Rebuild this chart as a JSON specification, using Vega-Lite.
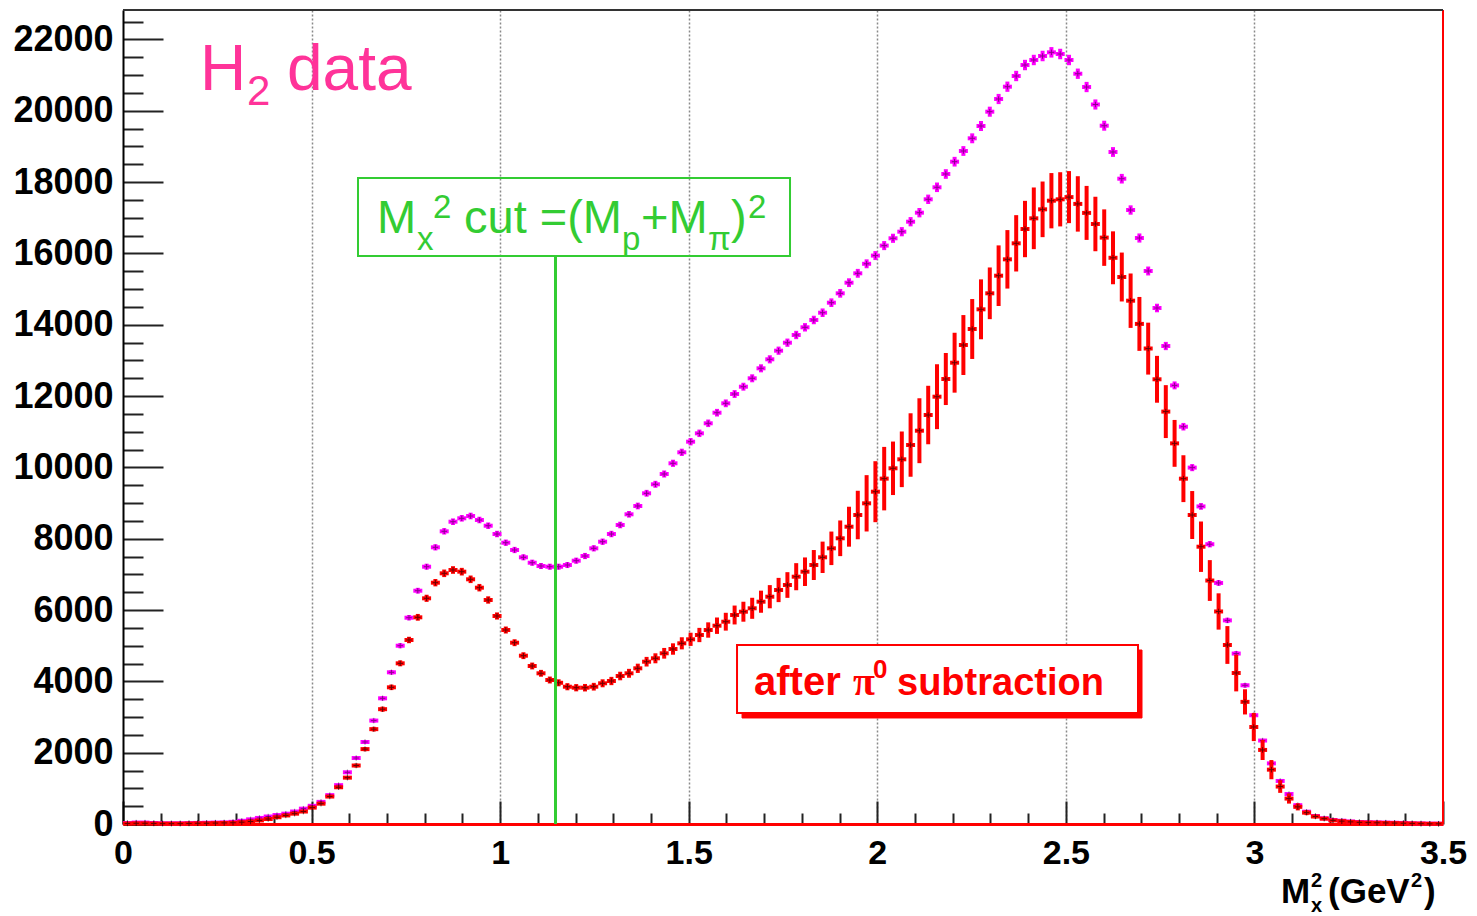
{
  "$schema": "https://vega.github.io/schema/vega-lite/v6.json",
  "width": 1320,
  "height": 814,
  "autosize": {"type": "none"},
  "padding": {"left": 123, "top": 10, "right": 34, "bottom": 92},
  "background": "white",
  "config": {"view": {"stroke": null}, "font": "Liberation Sans"},
  "resolve": {"axis": {"x": "independent", "y": "independent"}},
  "data": {"values": [
    {"x":0.0117,"h":30,"he":6,"s":15,"se":5},{"x":0.0350,"h":40,"he":6,"s":20,"se":5},{"x":0.0583,"h":40,"he":6,"s":20,"se":5},{"x":0.0817,"h":30,"he":6,"s":15,"se":5},{"x":0.1050,"h":20,"he":5,"s":10,"se":5},
    {"x":0.1283,"h":20,"he":5,"s":10,"se":5},{"x":0.1517,"h":20,"he":5,"s":10,"se":5},{"x":0.1750,"h":25,"he":5,"s":15,"se":5},{"x":0.1983,"h":30,"he":6,"s":20,"se":5},{"x":0.2217,"h":35,"he":6,"s":20,"se":5},
    {"x":0.2450,"h":40,"he":6,"s":25,"se":6},{"x":0.2683,"h":45,"he":7,"s":30,"se":6},{"x":0.2917,"h":60,"he":8,"s":35,"se":7},{"x":0.3150,"h":90,"he":10,"s":50,"se":8},{"x":0.3383,"h":130,"he":11,"s":70,"se":10},
    {"x":0.3617,"h":170,"he":13,"s":100,"se":12},{"x":0.3850,"h":210,"he":15,"s":140,"se":14},{"x":0.4083,"h":250,"he":16,"s":190,"se":16},{"x":0.4317,"h":290,"he":17,"s":240,"se":18},{"x":0.4550,"h":350,"he":19,"s":290,"se":20},
    {"x":0.4783,"h":430,"he":21,"s":350,"se":22},{"x":0.5017,"h":510,"he":23,"s":460,"se":25},{"x":0.5250,"h":620,"he":25,"s":570,"se":28},{"x":0.5483,"h":810,"he":28,"s":770,"se":32},{"x":0.5717,"h":1090,"he":33,"s":1030,"se":38},
    {"x":0.5950,"h":1450,"he":38,"s":1300,"se":45},{"x":0.6183,"h":1850,"he":43,"s":1640,"se":52},{"x":0.6417,"h":2300,"he":48,"s":2100,"se":58},{"x":0.6650,"h":2900,"he":54,"s":2660,"se":65},{"x":0.6883,"h":3525,"he":59,"s":3220,"se":72},
    {"x":0.7117,"h":4254,"he":65,"s":3833,"se":78},{"x":0.7350,"h":5000,"he":71,"s":4506,"se":84},{"x":0.7583,"h":5785,"he":76,"s":5160,"se":90},{"x":0.7817,"h":6542,"he":81,"s":5796,"se":95},{"x":0.8050,"h":7215,"he":85,"s":6329,"se":100},
    {"x":0.8283,"h":7759,"he":88,"s":6767,"se":103},{"x":0.8517,"h":8208,"he":91,"s":7030,"se":106},{"x":0.8750,"h":8477,"he":92,"s":7123,"se":107},{"x":0.8983,"h":8573,"he":93,"s":7076,"se":107},{"x":0.9217,"h":8637,"he":93,"s":6862,"se":106},
    {"x":0.9450,"h":8525,"he":92,"s":6627,"se":105},{"x":0.9683,"h":8365,"he":91,"s":6282,"se":103},{"x":0.9917,"h":8132,"he":90,"s":5833,"se":100},{"x":1.0150,"h":7888,"he":89,"s":5440,"se":98},{"x":1.0383,"h":7684,"he":88,"s":5084,"se":97},
    {"x":1.0617,"h":7479,"he":86,"s":4720,"se":96},{"x":1.0850,"h":7327,"he":86,"s":4431,"se":96},{"x":1.1083,"h":7235,"he":85,"s":4226,"se":96},{"x":1.1317,"h":7215,"he":85,"s":4038,"se":97},{"x":1.1550,"h":7215,"he":85,"s":3960,"se":98},
    {"x":1.1783,"h":7263,"he":85,"s":3850,"se":100},{"x":1.2017,"h":7384,"he":86,"s":3822,"se":102},{"x":1.2250,"h":7515,"he":87,"s":3822,"se":105},{"x":1.2483,"h":7731,"he":88,"s":3850,"se":108},{"x":1.2717,"h":7916,"he":89,"s":3946,"se":112},
    {"x":1.2950,"h":8132,"he":90,"s":4010,"se":116},{"x":1.3183,"h":8385,"he":92,"s":4150,"se":120},{"x":1.3417,"h":8685,"he":93,"s":4226,"se":125},{"x":1.3650,"h":8918,"he":94,"s":4366,"se":130},{"x":1.3883,"h":9274,"he":96,"s":4551,"se":135},
    {"x":1.4117,"h":9526,"he":98,"s":4647,"se":140},{"x":1.4350,"h":9815,"he":99,"s":4787,"se":150},{"x":1.4583,"h":10115,"he":101,"s":4907,"se":160},{"x":1.4817,"h":10423,"he":102,"s":5067,"se":170},{"x":1.5050,"h":10721,"he":104,"s":5179,"se":185},
    {"x":1.5283,"h":10956,"he":105,"s":5300,"se":200},{"x":1.5517,"h":11237,"he":106,"s":5440,"se":215},{"x":1.5750,"h":11534,"he":107,"s":5561,"se":230},{"x":1.5983,"h":11797,"he":109,"s":5673,"se":250},{"x":1.6217,"h":12058,"he":110,"s":5861,"se":265},
    {"x":1.6450,"h":12263,"he":111,"s":5953,"se":280},{"x":1.6683,"h":12499,"he":112,"s":6049,"se":295},{"x":1.6917,"h":12779,"he":113,"s":6234,"se":310},{"x":1.7150,"h":13031,"he":114,"s":6374,"se":325},{"x":1.7383,"h":13273,"he":115,"s":6562,"se":340},
    {"x":1.7617,"h":13497,"he":116,"s":6702,"se":360},{"x":1.7850,"h":13713,"he":117,"s":6935,"se":380},{"x":1.8083,"h":13929,"he":118,"s":7075,"se":400},{"x":1.8317,"h":14134,"he":119,"s":7263,"se":420},{"x":1.8550,"h":14338,"he":120,"s":7479,"se":440},
    {"x":1.8783,"h":14619,"he":121,"s":7731,"se":470},{"x":1.9017,"h":14882,"he":122,"s":8012,"se":500},{"x":1.9250,"h":15180,"he":123,"s":8337,"se":560},{"x":1.9483,"h":15443,"he":124,"s":8665,"se":680},{"x":1.9717,"h":15710,"he":125,"s":8993,"se":790},
    {"x":1.9950,"h":15940,"he":126,"s":9319,"se":855},{"x":2.0183,"h":16220,"he":127,"s":9685,"se":890},{"x":2.0417,"h":16425,"he":128,"s":9975,"se":750},{"x":2.0650,"h":16610,"he":129,"s":10227,"se":780},{"x":2.0883,"h":16890,"he":130,"s":10628,"se":890},
    {"x":2.1117,"h":17143,"he":131,"s":11029,"se":910},{"x":2.1350,"h":17518,"he":132,"s":11469,"se":820},{"x":2.1583,"h":17855,"he":134,"s":11983,"se":910},{"x":2.1817,"h":18228,"he":135,"s":12479,"se":730},{"x":2.2050,"h":18573,"he":136,"s":12936,"se":840},
    {"x":2.2283,"h":18873,"he":137,"s":13432,"se":840},{"x":2.2517,"h":19229,"he":139,"s":13881,"se":840},{"x":2.2750,"h":19574,"he":140,"s":14433,"se":840},{"x":2.2983,"h":19975,"he":141,"s":14882,"se":725},{"x":2.3217,"h":20331,"he":143,"s":15376,"se":850},
    {"x":2.3450,"h":20676,"he":144,"s":15835,"se":820},{"x":2.3683,"h":20976,"he":145,"s":16284,"se":790},{"x":2.3917,"h":21284,"he":146,"s":16685,"se":790},{"x":2.4150,"h":21425,"he":146,"s":16985,"se":865},{"x":2.4383,"h":21537,"he":147,"s":17237,"se":780},
    {"x":2.4617,"h":21640,"he":147,"s":17479,"se":775},{"x":2.4850,"h":21593,"he":147,"s":17518,"se":760},{"x":2.5083,"h":21425,"he":146,"s":17580,"se":730},{"x":2.5317,"h":21040,"he":145,"s":17389,"se":777},{"x":2.5550,"h":20667,"he":144,"s":17137,"se":757},
    {"x":2.5783,"h":20177,"he":142,"s":16826,"se":764},{"x":2.6017,"h":19582,"he":140,"s":16444,"se":792},{"x":2.6250,"h":18845,"he":137,"s":15878,"se":742},{"x":2.6483,"h":18096,"he":135,"s":15339,"se":686},{"x":2.6717,"h":17218,"he":131,"s":14675,"se":763},
    {"x":2.6950,"h":16433,"he":128,"s":14024,"se":756},{"x":2.7183,"h":15508,"he":125,"s":13331,"se":728},{"x":2.7417,"h":14470,"he":120,"s":12471,"se":657},{"x":2.7650,"h":13404,"he":116,"s":11565,"se":742},{"x":2.7883,"h":12300,"he":111,"s":10674,"se":657},
    {"x":2.8117,"h":11141,"he":106,"s":9684,"se":657},{"x":2.8350,"h":9994,"he":100,"s":8665,"se":672},{"x":2.8583,"h":8906,"he":94,"s":7776,"se":707},{"x":2.8817,"h":7846,"he":89,"s":6828,"se":572},{"x":2.9050,"h":6760,"he":82,"s":5960,"se":509},
    {"x":2.9283,"h":5710,"he":76,"s":5020,"se":530},{"x":2.9517,"h":4780,"he":69,"s":4235,"se":516},{"x":2.9750,"h":3890,"he":62,"s":3425,"se":353},{"x":2.9983,"h":3050,"he":55,"s":2720,"se":395},{"x":3.0217,"h":2340,"he":48,"s":2077,"se":283},
    {"x":3.0450,"h":1700,"he":41,"s":1524,"se":269},{"x":3.0683,"h":1207,"he":35,"s":1050,"se":177},{"x":3.0917,"h":840,"he":29,"s":713,"se":141},{"x":3.1150,"h":528,"he":23,"s":481,"se":100},{"x":3.1383,"h":345,"he":19,"s":318,"se":70},
    {"x":3.1617,"h":224,"he":15,"s":210,"se":50},{"x":3.1850,"h":160,"he":13,"s":150,"se":35},{"x":3.2083,"h":112,"he":11,"s":100,"se":25},{"x":3.2317,"h":93,"he":10,"s":80,"se":20},{"x":3.2550,"h":70,"he":8,"s":60,"se":15},
    {"x":3.2783,"h":55,"he":7,"s":45,"se":12},{"x":3.3017,"h":50,"he":7,"s":40,"se":10},{"x":3.3250,"h":45,"he":7,"s":35,"se":10},{"x":3.3483,"h":40,"he":6,"s":30,"se":8},{"x":3.3717,"h":35,"he":6,"s":25,"se":8},
    {"x":3.3950,"h":30,"he":6,"s":20,"se":6},{"x":3.4183,"h":20,"he":5,"s":15,"se":5},{"x":3.4417,"h":15,"he":4,"s":10,"se":4},{"x":3.4650,"h":10,"he":3,"s":5,"se":3},{"x":3.4883,"h":10,"he":3,"s":5,"se":3}
  ]},
  "layer": [
    {
      "mark": {"type": "tick", "orient": "horizontal", "color": "#ff00ff", "size": 9, "thickness": 4, "opacity": 1},
      "encoding": {
        "x": {"field": "x", "type": "quantitative", "title": null, "scale": {"domain": [0, 3.5], "nice": false, "zero": false},
          "axis": {
            "orient": "bottom",
            "values": [0,0.1,0.2,0.3,0.4,0.5,0.6,0.7,0.8,0.9,1,1.1,1.2,1.3,1.4,1.5,1.6,1.7,1.8,1.9,2,2.1,2.2,2.3,2.4,2.5,2.6,2.7,2.8,2.9,3,3.1,3.2,3.3,3.4,3.5],
            "title": null,
            "labelExpr": "round(datum.value*10) % 5 == 0 ? format(datum.value, '~g') : ''",
            "labelFont": "Liberation Sans", "labelFontSize": 34, "labelFontWeight": "bold", "labelColor": "#000000",
            "labelPadding": 35, "labelFlush": false, "labelOverlap": false, "labelBound": false,
            "tickSize": {"condition": {"test": "round(datum.value*10) % 5 == 0", "value": -23}, "value": -11},
            "tickColor": "#222222", "tickWidth": 2,
            "grid": true, "gridColor": "#8a8a8a", "gridDash": [2, 2], "gridWidth": 1.5,
            "gridOpacity": {"condition": {"test": "round(datum.value*10) % 5 == 0 && datum.value > 0 && datum.value < 3.5", "value": 1}, "value": 0},
            "domainColor": "#ff0000", "domainWidth": 3
          }
        },
        "y": {"field": "h", "type": "quantitative", "title": null, "scale": {"domain": [0, 22827], "nice": false, "zero": false},
          "axis": {
            "orient": "left",
            "values": [0,500,1000,1500,2000,2500,3000,3500,4000,4500,5000,5500,6000,6500,7000,7500,8000,8500,9000,9500,10000,10500,11000,11500,12000,12500,13000,13500,14000,14500,15000,15500,16000,16500,17000,17500,18000,18500,19000,19500,20000,20500,21000,21500,22000,22500],
            "title": null,
            "labelExpr": "datum.value % 2000 == 0 ? format(datum.value, 'd') : ''",
            "labelFont": "Liberation Sans", "labelFontSize": 36, "labelFontWeight": "bold", "labelColor": "#000000",
            "labelPadding": 50, "labelFlush": false, "labelOverlap": false, "labelBound": false,
            "tickSize": {"condition": {"test": "datum.value % 2000 == 0", "value": -40}, "value": -20},
            "tickColor": "#222222", "tickWidth": 2,
            "grid": false,
            "domainColor": "#000000", "domainWidth": 2
          }
        }
      }
    },
    {
      "mark": {"type": "errorbar", "ticks": false, "color": "#ff00ff", "thickness": 4},
      "encoding": {
        "x": {"field": "x", "type": "quantitative", "axis": null, "scale": {"domain": [0, 3.5], "nice": false, "zero": false}},
        "y": {"field": "h", "type": "quantitative", "axis": null, "scale": {"domain": [0, 22827], "nice": false, "zero": false}},
        "yError": {"field": "he"}
      }
    },
    {
      "mark": {"type": "point", "shape": "M-1,0H1M0,-1V1", "size": 30, "filled": false, "stroke": "#000000", "strokeWidth": 1, "opacity": 0.45},
      "encoding": {
        "x": {"field": "x", "type": "quantitative", "axis": null, "scale": {"domain": [0, 3.5], "nice": false, "zero": false}},
        "y": {"field": "h", "type": "quantitative", "axis": null, "scale": {"domain": [0, 22827], "nice": false, "zero": false}}
      }
    },
    {
      "mark": {"type": "errorbar", "ticks": false, "color": "#ff0000", "thickness": 4},
      "encoding": {
        "x": {"field": "x", "type": "quantitative", "axis": null, "scale": {"domain": [0, 3.5], "nice": false, "zero": false}},
        "y": {"field": "s", "type": "quantitative", "axis": null, "scale": {"domain": [0, 22827], "nice": false, "zero": false}},
        "yError": {"field": "se"}
      }
    },
    {
      "mark": {"type": "tick", "orient": "horizontal", "color": "#ff0000", "size": 9, "thickness": 4, "opacity": 1},
      "encoding": {
        "x": {"field": "x", "type": "quantitative", "axis": null, "scale": {"domain": [0, 3.5], "nice": false, "zero": false}},
        "y": {"field": "s", "type": "quantitative", "axis": null, "scale": {"domain": [0, 22827], "nice": false, "zero": false}}
      }
    },
    {
      "mark": {"type": "point", "shape": "M-1,0H1M0,-1V1", "size": 30, "filled": false, "stroke": "#000000", "strokeWidth": 1, "opacity": 0.6},
      "encoding": {
        "x": {"field": "x", "type": "quantitative", "axis": null, "scale": {"domain": [0, 3.5], "nice": false, "zero": false}},
        "y": {"field": "s", "type": "quantitative", "axis": null, "scale": {"domain": [0, 22827], "nice": false, "zero": false}}
      }
    },
    {
      "data": {"values": [{}]},
      "mark": {"type": "rule", "color": "#ff0000", "strokeWidth": 2},
      "encoding": {"x": {"datum": 3.5, "type": "quantitative", "axis": null}, "y": {"datum": 0, "type": "quantitative", "axis": null}, "y2": {"datum": 22827}}
    },
    {
      "data": {"values": [{}]},
      "mark": {"type": "rule", "color": "#333333", "strokeWidth": 2},
      "encoding": {"x": {"datum": 0, "type": "quantitative", "axis": null}, "x2": {"datum": 3.5}, "y": {"datum": 22827, "type": "quantitative", "axis": null}}
    },
    {
      "data": {"values": [{}]},
      "mark": {"type": "rule", "color": "#33cc33", "strokeWidth": 3},
      "encoding": {"x": {"datum": 1.1468, "type": "quantitative", "axis": null}, "y": {"datum": 0, "type": "quantitative", "axis": null}, "y2": {"datum": 15929}}
    },
    {
      "data": {"values": [{}]},
      "mark": {"type": "rect", "fill": "transparent", "stroke": "#33cc33", "strokeWidth": 2},
      "encoding": {"x": {"datum": 0.6231, "type": "quantitative", "axis": null}, "x2": {"datum": 1.7686}, "y": {"datum": 15929, "type": "quantitative", "axis": null}, "y2": {"datum": 18116}}
    },
    {
      "data": {"values": [{}]},
      "mark": {"type": "rect", "fill": "#ff0000", "stroke": "#ff0000", "strokeWidth": 1},
      "encoding": {"x": {"datum": 1.6414, "type": "quantitative", "axis": null}, "x2": {"datum": 2.7019}, "y": {"datum": 2973, "type": "quantitative", "axis": null}, "y2": {"datum": 4879}}
    },
    {
      "data": {"values": [{}]},
      "mark": {"type": "rect", "fill": "#ffffff", "stroke": "#ff0000", "strokeWidth": 2},
      "encoding": {"x": {"datum": 1.6281, "type": "quantitative", "axis": null}, "x2": {"datum": 2.6913}, "y": {"datum": 3113, "type": "quantitative", "axis": null}, "y2": {"datum": 5020}}
    },
    {"data": {"values": [{}]}, "mark": {"type": "text", "text": "H", "fontSize": 64, "color": "#ff3399", "align": "left", "baseline": "alphabetic"}, "encoding": {"x": {"datum": 0.2042, "type": "quantitative", "axis": null}, "y": {"datum": 20584, "type": "quantitative", "axis": null}}},
    {"data": {"values": [{}]}, "mark": {"type": "text", "text": "2", "fontSize": 42, "color": "#ff3399", "align": "left", "baseline": "alphabetic"}, "encoding": {"x": {"datum": 0.3288, "type": "quantitative", "axis": null}, "y": {"datum": 20164, "type": "quantitative", "axis": null}}},
    {"data": {"values": [{}]}, "mark": {"type": "text", "text": "data", "fontSize": 64, "color": "#ff3399", "align": "left", "baseline": "alphabetic"}, "encoding": {"x": {"datum": 0.4349, "type": "quantitative", "axis": null}, "y": {"datum": 20584, "type": "quantitative", "axis": null}}},
    {"data": {"values": [{}]}, "mark": {"type": "text", "text": "M", "fontSize": 47, "color": "#33cc33", "align": "left", "baseline": "alphabetic"}, "encoding": {"x": {"datum": 0.6735, "type": "quantitative", "axis": null}, "y": {"datum": 16574, "type": "quantitative", "axis": null}}},
    {"data": {"values": [{}]}, "mark": {"type": "text", "text": "x", "fontSize": 33, "color": "#33cc33", "align": "left", "baseline": "alphabetic"}, "encoding": {"x": {"datum": 0.7796, "type": "quantitative", "axis": null}, "y": {"datum": 16097, "type": "quantitative", "axis": null}}},
    {"data": {"values": [{}]}, "mark": {"type": "text", "text": "2", "fontSize": 33, "color": "#33cc33", "align": "left", "baseline": "alphabetic"}, "encoding": {"x": {"datum": 0.822, "type": "quantitative", "axis": null}, "y": {"datum": 16995, "type": "quantitative", "axis": null}}},
    {"data": {"values": [{}]}, "mark": {"type": "text", "text": "cut =(M", "fontSize": 47, "color": "#33cc33", "align": "left", "baseline": "alphabetic"}, "encoding": {"x": {"datum": 0.9042, "type": "quantitative", "axis": null}, "y": {"datum": 16574, "type": "quantitative", "axis": null}}},
    {"data": {"values": [{}]}, "mark": {"type": "text", "text": "p", "fontSize": 33, "color": "#33cc33", "align": "left", "baseline": "alphabetic"}, "encoding": {"x": {"datum": 1.3231, "type": "quantitative", "axis": null}, "y": {"datum": 16097, "type": "quantitative", "axis": null}}},
    {"data": {"values": [{}]}, "mark": {"type": "text", "text": "+M", "fontSize": 47, "color": "#33cc33", "align": "left", "baseline": "alphabetic"}, "encoding": {"x": {"datum": 1.3735, "type": "quantitative", "axis": null}, "y": {"datum": 16574, "type": "quantitative", "axis": null}}},
    {"data": {"values": [{}]}, "mark": {"type": "text", "text": "π", "fontSize": 33, "color": "#33cc33", "align": "left", "baseline": "alphabetic"}, "encoding": {"x": {"datum": 1.5511, "type": "quantitative", "axis": null}, "y": {"datum": 16097, "type": "quantitative", "axis": null}}},
    {"data": {"values": [{}]}, "mark": {"type": "text", "text": ")", "fontSize": 47, "color": "#33cc33", "align": "left", "baseline": "alphabetic"}, "encoding": {"x": {"datum": 1.6121, "type": "quantitative", "axis": null}, "y": {"datum": 16574, "type": "quantitative", "axis": null}}},
    {"data": {"values": [{}]}, "mark": {"type": "text", "text": "2", "fontSize": 33, "color": "#33cc33", "align": "left", "baseline": "alphabetic"}, "encoding": {"x": {"datum": 1.6572, "type": "quantitative", "axis": null}, "y": {"datum": 16995, "type": "quantitative", "axis": null}}},
    {"data": {"values": [{}]}, "mark": {"type": "text", "text": "after", "fontSize": 40, "fontWeight": "bold", "color": "#ff0000", "align": "left", "baseline": "alphabetic"}, "encoding": {"x": {"datum": 1.6731, "type": "quantitative", "axis": null}, "y": {"datum": 3618, "type": "quantitative", "axis": null}}},
    {"data": {"values": [{}]}, "mark": {"type": "text", "text": "π", "font": "Liberation Serif", "fontSize": 40, "fontWeight": "bold", "color": "#ff0000", "align": "left", "baseline": "alphabetic"}, "encoding": {"x": {"datum": 1.9356, "type": "quantitative", "axis": null}, "y": {"datum": 3618, "type": "quantitative", "axis": null}}},
    {"data": {"values": [{}]}, "mark": {"type": "text", "text": "0", "fontSize": 26, "fontWeight": "bold", "color": "#ff0000", "align": "left", "baseline": "alphabetic"}, "encoding": {"x": {"datum": 1.9887, "type": "quantitative", "axis": null}, "y": {"datum": 4086, "type": "quantitative", "axis": null}}},
    {"data": {"values": [{}]}, "mark": {"type": "text", "text": "subtraction", "fontSize": 38, "fontWeight": "bold", "color": "#ff0000", "align": "left", "baseline": "alphabetic"}, "encoding": {"x": {"datum": 2.0523, "type": "quantitative", "axis": null}, "y": {"datum": 3618, "type": "quantitative", "axis": null}}},
    {"data": {"values": [{}]}, "mark": {"type": "text", "text": "M", "fontSize": 35, "fontWeight": "bold", "color": "#000000", "align": "left", "baseline": "alphabetic"}, "encoding": {"x": {"datum": 3.0705, "type": "quantitative", "axis": null}, "y": {"datum": -2215, "type": "quantitative", "axis": null}}},
    {"data": {"values": [{}]}, "mark": {"type": "text", "text": "2", "fontSize": 20, "fontWeight": "bold", "color": "#000000", "align": "left", "baseline": "alphabetic"}, "encoding": {"x": {"datum": 3.15, "type": "quantitative", "axis": null}, "y": {"datum": -1758, "type": "quantitative", "axis": null}}},
    {"data": {"values": [{}]}, "mark": {"type": "text", "text": "x", "fontSize": 20, "fontWeight": "bold", "color": "#000000", "align": "left", "baseline": "alphabetic"}, "encoding": {"x": {"datum": 3.15, "type": "quantitative", "axis": null}, "y": {"datum": -2468, "type": "quantitative", "axis": null}}},
    {"data": {"values": [{}]}, "mark": {"type": "text", "text": "(GeV", "fontSize": 35, "fontWeight": "bold", "color": "#000000", "align": "left", "baseline": "alphabetic"}, "encoding": {"x": {"datum": 3.1951, "type": "quantitative", "axis": null}, "y": {"datum": -2215, "type": "quantitative", "axis": null}}},
    {"data": {"values": [{}]}, "mark": {"type": "text", "text": "2", "fontSize": 20, "fontWeight": "bold", "color": "#000000", "align": "left", "baseline": "alphabetic"}, "encoding": {"x": {"datum": 3.4152, "type": "quantitative", "axis": null}, "y": {"datum": -1758, "type": "quantitative", "axis": null}}},
    {"data": {"values": [{}]}, "mark": {"type": "text", "text": ")", "fontSize": 35, "fontWeight": "bold", "color": "#000000", "align": "left", "baseline": "alphabetic"}, "encoding": {"x": {"datum": 3.4497, "type": "quantitative", "axis": null}, "y": {"datum": -2215, "type": "quantitative", "axis": null}}}
  ]
}
